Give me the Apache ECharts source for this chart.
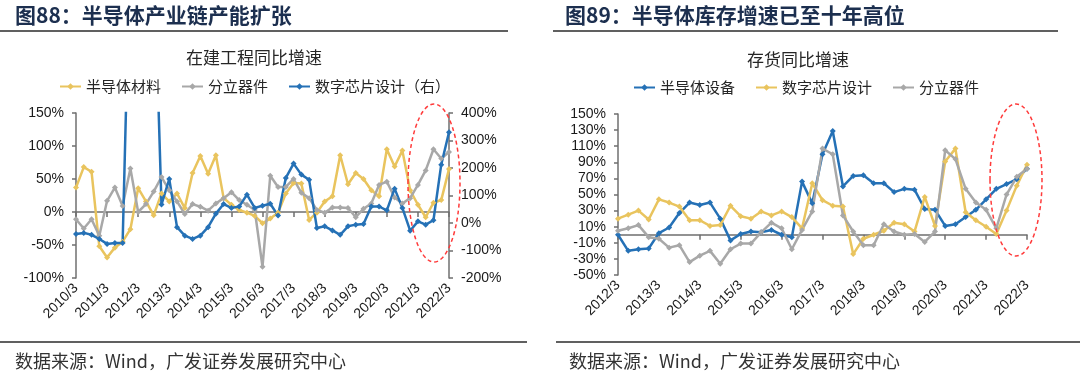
<!DOCTYPE html>
<html>
<head>
<meta charset="utf-8">
<title>半导体产业链</title>
<script src="https://cdn.jsdelivr.net/npm/echarts@6/dist/echarts.min.js"></script>
<style>
html, body { margin: 0; padding: 0; background: #fff; }
#main { width: 1080px; height: 375px; }
</style>
</head>
<body>
<div id="main"></div>
<script>
// 图88 在建工程同比增速（季度，%）
var capexCats = [
    '2010/3', '2010/6', '2010/9', '2010/12', '2011/3', '2011/6', '2011/9', '2011/12',
    '2012/3', '2012/6', '2012/9', '2012/12', '2013/3', '2013/6', '2013/9', '2013/12',
    '2014/3', '2014/6', '2014/9', '2014/12', '2015/3', '2015/6', '2015/9', '2015/12',
    '2016/3', '2016/6', '2016/9', '2016/12', '2017/3', '2017/6', '2017/9', '2017/12',
    '2018/3', '2018/6', '2018/9', '2018/12', '2019/3', '2019/6', '2019/9', '2019/12',
    '2020/3', '2020/6', '2020/9', '2020/12', '2021/3', '2021/6', '2021/9', '2021/12',
    '2022/3'
];
var materialCapex = [37, 68, 61, -52, -69, -54, -45, -26, 36, 16, -5, 28, 16, 28, 6, 59,
    85, 58, 86, 21, 11, 3, -1, -6, -17, -10, -1, 28, 44, 43, -12, -1,
    16, 24, 86, 42, 59, 50, 33, 24, 95, 69, 93, 33, 11, -8, 14, 18, 65];
var discreteCapex = [-11, -25, -11, -36, 17, 37, 9, 66, 0, 12, 31, 53, 33, 16, -3, 12,
    8, 2, 13, 21, 30, 18, 11, 3, -83, 55, 38, 38, 50, 29, 21, 3,
    -1, 7, 7, 6, -8, 5, 13, 41, 46, 22, 13, 21, 41, 63, 95, 81, 91];
// 右轴，2011-2012 年的尖峰超出坐标范围
var chipDesignCapex = [-40, -36, -43, -58, -76, -73, -73, 1050, 1250, 1150, 1000, 67, 160, -15, -46, -58,
    -46, -15, 34, 69, 55, 60, 103, 55, 63, 70, 27, 164, 216, 176, 157, -18,
    -12, -27, -43, -12, -6, -4, 60, 60, 46, 125, 55, -28, 6, -6, 10, 212, 330];

// 图89 存货同比增速（季度，%）
var stockCats = [
    '2012/3', '2012/6', '2012/9', '2012/12', '2013/3', '2013/6', '2013/9', '2013/12',
    '2014/3', '2014/6', '2014/9', '2014/12', '2015/3', '2015/6', '2015/9', '2015/12',
    '2016/3', '2016/6', '2016/9', '2016/12', '2017/3', '2017/6', '2017/9', '2017/12',
    '2018/3', '2018/6', '2018/9', '2018/12', '2019/3', '2019/6', '2019/9', '2019/12',
    '2020/3', '2020/6', '2020/9', '2020/12', '2021/3', '2021/6', '2021/9', '2021/12',
    '2022/3'
];
var equipStock = [0, -20, -18, -17, 2, 9, 27, 40, 37, 40, 20, -7, 1, 4, 3, 6,
    0, -3, 66, 39, 100, 129, 60, 73, 74, 64, 64, 53, 57, 56, 32, 31,
    11, 13, 22, 31, 44, 57, 63, 69, 82];
var chipStock = [20, 25, 30, 19, 44, 40, 35, 18, 18, 11, 12, 36, 23, 20, 29, 24,
    29, 22, 8, 64, 43, 36, 35, -24, -5, 0, 5, 15, 13, 4, 47, 11,
    91, 107, 28, 18, 10, 1, 30, 61, 87];
var discreteStock = [5, 8, 12, -3, -5, -16, -13, -34, -26, -20, -36, -18, -11, -11, 3, 15,
    8, -18, 6, 29, 107, 100, 24, 4, -13, -13, 13, 4, 0, 1, -9, 4,
    105, 94, 57, 40, 31, 8, 50, 72, 82];
var stockTicks = [-50, -30, -10, 10, 30, 50, 70, 90, 110, 130, 150];

var YELLOW = '#E9C45E';
var GRAY = '#A8A8A8';
var BLUE = '#2571B6';
var AXIS = '#6f6f6f';
var NUM_FONT = '"Liberation Sans", Arial, sans-serif';
var CJK_FONT = '"Noto Sans CJK SC", sans-serif';

var myChart = echarts.init(document.getElementById('main'));

function lineSeries(name, data, color, xIdx, yIdx) {
    return {
        name: name,
        type: 'line',
        xAxisIndex: xIdx,
        yAxisIndex: yIdx,
        data: data,
        symbol: 'diamond',
        symbolSize: 6,
        showAllSymbol: true,
        clip: true,
        itemStyle: { color: color },
        lineStyle: { color: color, width: 2.5 }
    };
}

//只显示标签的x轴（放在图底部）
function labelAxis(grid, cats) {
    return {
        type: 'category', gridIndex: grid, data: cats, boundaryGap: false, position: 'bottom',
        axisLine: { show: false, onZero: false },
        axisTick: { show: false },
        splitLine: { show: false },
        axisLabel: { interval: 3, rotate: 45, margin: 8, fontSize: 14, color: '#1a1a1a', fontFamily: NUM_FONT }
    };
}
//0轴处的x轴线和刻度
function zeroAxis(grid, cats) {
    return {
        type: 'category', gridIndex: grid, data: cats, boundaryGap: false, position: 'bottom',
        axisLine: { onZero: true, lineStyle: { color: AXIS, width: 1.5 } },
        axisTick: { interval: 3, length: 5, lineStyle: { color: AXIS, width: 1.5 } },
        axisLabel: { show: false },
        splitLine: { show: false }
    };
}
function valueAxis(grid, pos, min, max, interval) {
    var ax = {
        type: 'value', gridIndex: grid, position: pos, min: min, max: max,
        axisLine: { show: true, lineStyle: { color: AXIS, width: 1.5 } },
        axisTick: { show: true, length: 4, lineStyle: { color: AXIS, width: 1.5 } },
        splitLine: { show: false },
        axisLabel: { formatter: '{value}%', margin: 12, fontSize: 14, color: '#1a1a1a', fontFamily: NUM_FONT }
    };
    if (interval) ax.interval = interval;
    return ax;
}

var stockAxis = valueAxis(1, 'left', -50, 150);
stockAxis.axisLabel.customValues = stockTicks;
stockAxis.axisTick.customValues = stockTicks;

function text(str, x, y, font, color, align) {
    return {
        type: 'text', x: x, y: y, z: 100,
        style: { text: str, font: font, fill: color, textAlign: align || 'left', textVerticalAlign: 'middle' }
    };
}
function hline(x1, x2, y) {
    return {
        type: 'line', z: 100,
        shape: { x1: x1, y1: y, x2: x2, y2: y },
        style: { stroke: '#2b2b2b', lineWidth: 1.5 }
    };
}
function ellipse(cx, cy, rx, ry) {
    return {
        type: 'ellipse', z: 100,
        shape: { cx: cx, cy: cy, rx: rx, ry: ry },
        style: { fill: 'none', stroke: '#FF3B3B', lineWidth: 1.5, lineDash: [4, 3] }
    };
}

var legendText = { fontSize: 15, color: '#262626', fontFamily: CJK_FONT };

myChart.setOption({
    animation: false,
    grid: [
        { left: 76, top: 113, width: 373, height: 165 },
        { left: 618, top: 114, width: 409, height: 161 }
    ],
    legend: [
        {
            left: 59, top: 79, padding: 0, itemGap: 20, itemWidth: 21, itemHeight: 8,
            textStyle: legendText,
            data: ['半导体材料', '分立器件', '数字芯片设计（右）']
        },
        {
            left: 633, top: 80, padding: 0, itemGap: 20, itemWidth: 21, itemHeight: 8,
            textStyle: legendText,
            data: ['半导体设备', '数字芯片设计', '分立器件']
        }
    ],
    xAxis: [
        labelAxis(0, capexCats),
        zeroAxis(0, capexCats),
        labelAxis(1, stockCats),
        zeroAxis(1, stockCats)
    ],
    yAxis: [
        valueAxis(0, 'left', -100, 150, 50),
        valueAxis(0, 'right', -200, 400, 100),
        stockAxis
    ],
    series: [
        lineSeries('半导体材料', materialCapex, YELLOW, 0, 0),
        lineSeries('分立器件', discreteCapex, GRAY, 0, 0),
        lineSeries('数字芯片设计（右）', chipDesignCapex, BLUE, 0, 1),
        lineSeries('半导体设备', equipStock, BLUE, 2, 2),
        lineSeries('数字芯片设计', chipStock, YELLOW, 2, 2),
        lineSeries('分立器件', discreteStock, GRAY, 2, 2)
    ],
    graphic: [
        text('图88：半导体产业链产能扩张', 15, 15, 'bold 21px ' + CJK_FONT, '#1c2f4f'),
        text('图89：半导体库存增速已至十年高位', 565, 15, 'bold 21px ' + CJK_FONT, '#1c2f4f'),
        hline(0, 508, 31),
        hline(553, 1058, 31),
        text('在建工程同比增速', 254, 58, '17px ' + CJK_FONT, '#262626', 'center'),
        text('存货同比增速', 798, 60, '17px ' + CJK_FONT, '#262626', 'center'),
        hline(0, 527, 342),
        hline(556, 1080, 342),
        text('数据来源：Wind，广发证券发展研究中心', 15, 361, '18px ' + CJK_FONT, '#333333'),
        text('数据来源：Wind，广发证券发展研究中心', 569, 361, '18px ' + CJK_FONT, '#333333'),
        ellipse(434, 183, 26, 79),
        ellipse(1016, 180, 26, 76)
    ]
});
</script>
</body>
</html>
